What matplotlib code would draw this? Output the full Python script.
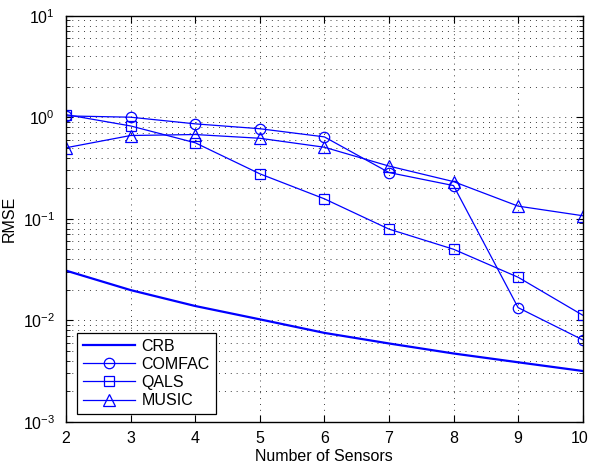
import matplotlib
matplotlib.use("Agg")
import matplotlib.pyplot as plt
import matplotlib.transforms as mtransforms
from matplotlib.ticker import LogLocator, NullFormatter

plt.rcParams['font.family'] = ['Liberation Sans', 'DejaVu Sans']

sensors = [2, 3, 4, 5, 6, 7, 8, 9, 10]
crb = [0.0308, 0.0198, 0.0138, 0.0102, 0.0075, 0.0059, 0.0047, 0.00385, 0.00316]
comfac = [1.03, 1.00, 0.86, 0.77, 0.64, 0.285, 0.212, 0.0133, 0.0064]
qals = [1.06, 0.82, 0.56, 0.277, 0.157, 0.079, 0.050, 0.0265, 0.0112]
music = [0.50, 0.66, 0.675, 0.62, 0.506, 0.33, 0.232, 0.133, 0.107]

xticks = [2, 3, 4, 5, 6, 7, 8, 9, 10]

fs = 11.5
fig = plt.figure(figsize=(5.9, 4.63), dpi=100)
ax = fig.add_axes([66/590, 1 - 421.7/463, (582.7-66)/590, (421.7-15.7)/463])

blue = '#0000ff'
ax.semilogy(sensors, crb, color=blue, lw=1.6, label='CRB')
ax.semilogy(sensors, comfac, color=blue, lw=0.9, marker='o', ms=7.5,
            mfc='none', mec=blue, mew=0.9, label='COMFAC')
ax.semilogy(sensors, qals, color=blue, lw=0.9, marker='s', ms=7,
            mfc='none', mec=blue, mew=0.9, label='QALS')
ax.semilogy(sensors, music, color=blue, lw=0.9, marker='^', ms=8,
            mfc='none', mec=blue, mew=0.9, label='MUSIC')

ax.set_xlim(2, 10)
ax.set_ylim(1e-3, 1e1)
ax.set_xticks(xticks)
ax.set_xticklabels([str(t) for t in xticks])
ax.yaxis.set_major_locator(LogLocator(base=10, numticks=10))
ax.yaxis.set_minor_locator(LogLocator(base=10, subs=range(2, 10), numticks=100))
ax.yaxis.set_minor_formatter(NullFormatter())

gls = (0, (1, 5.5))
ax.grid(True, which='major', axis='both', linestyle=gls, color='#222222', lw=0.65)
ax.grid(True, which='minor', axis='y', linestyle=gls, color='#222222', lw=0.65)

ax.tick_params(which='both', direction='in', top=True, right=True, labelsize=fs, colors='black')
ax.tick_params(which='major', length=5)
ax.tick_params(which='minor', length=3)
ax.tick_params(axis='x', which='major', pad=7)
ax.tick_params(axis='y', which='major', pad=8)
for s in ax.spines.values():
    s.set_linewidth(1.0)

# keep the last x tick label inside the canvas
last = ax.get_xticklabels()[-1]
last.set_transform(last.get_transform() +
                   mtransforms.ScaledTranslation(-3/100, 0, fig.dpi_scale_trans))

ax.set_xlabel('Number of Sensors', fontsize=fs, labelpad=2)
ax.set_ylabel('RMSE', fontsize=fs, labelpad=4)

leg = ax.legend(loc='lower left', fontsize=fs, fancybox=False, framealpha=1,
                edgecolor='black', handlelength=3.3, borderaxespad=0.0,
                bbox_to_anchor=(11/516.7, 8/406), labelspacing=0.2, handletextpad=0.4,
                borderpad=0.35)
leg.get_frame().set_linewidth(0.9)

fig.savefig('out.png', dpi=100)
